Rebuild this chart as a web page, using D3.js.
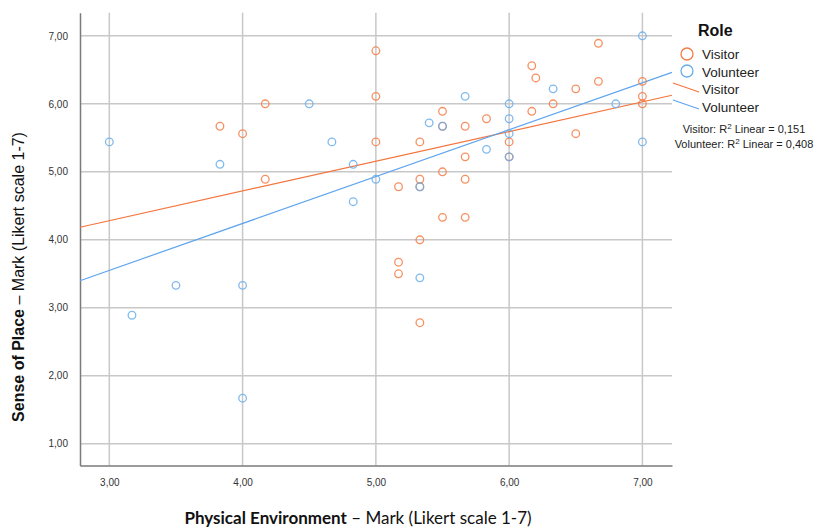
<!DOCTYPE html>
<html>
<head>
<meta charset="utf-8">
<script src="https://cdn.jsdelivr.net/npm/d3@7"></script>
<style>
  body { margin: 0; background: #fff; }
  text { font-family: "Liberation Sans", Arial, sans-serif; }
</style>
</head>
<body>
<div id="chart"></div>
<script>
// 1: DATA
const visitorX = [3.83, 4.00, 4.17, 4.17, 5.00, 5.00, 5.50, 5.50, 5.67, 5.00, 5.33, 5.67, 5.50, 5.67, 5.33, 5.17, 5.33, 5.50, 5.67, 5.33, 5.17, 5.17, 5.33,
                  6.67, 6.17, 6.20, 6.50, 6.67, 7.00, 7.00, 7.00, 6.33, 6.17, 5.83, 6.00, 6.00, 6.50];
const visitorY = [5.67, 5.56, 6.00, 4.89, 6.78, 6.11, 5.89, 5.67, 5.67, 5.44, 5.44, 5.22, 5.00, 4.89, 4.89, 4.78, 4.78, 4.33, 4.33, 4.00, 3.67, 3.50, 2.78,
                  6.89, 6.56, 6.38, 6.22, 6.33, 6.33, 6.11, 6.00, 6.00, 5.89, 5.78, 5.44, 5.22, 5.56];
const volunteerX = [3.00, 3.83, 4.50, 5.67, 5.40, 5.50, 4.67, 4.83, 5.00, 5.33, 4.83, 7.00, 6.33, 6.80, 6.00, 6.00, 6.00, 5.83, 6.00, 7.00, 3.50, 4.00, 3.17, 4.00, 5.33];
const volunteerY = [5.44, 5.11, 6.00, 6.11, 5.72, 5.67, 5.44, 5.11, 4.89, 4.78, 4.56, 7.00, 6.22, 6.00, 6.00, 5.78, 5.56, 5.33, 5.22, 5.44, 3.33, 3.33, 2.89, 1.67, 3.44];

// fit lines as drawn in the reference: [intercept, slope]
const visitorFit = [2.97, 0.437];
const volunteerFit = [1.48, 0.69];
const r2Roles = ["Visitor", "Volunteer"];
const r2Values = ["0,151", "0,408"];

const xTicks = [3, 4, 5, 6, 7];
const yTicks = [1, 2, 3, 4, 5, 6, 7];
const roles = ["Visitor", "Volunteer"];

// 2: SETUP
const W = 818, H = 528;
const plot = { left: 80, right: 672, top: 12.7, bottom: 465.5 };
const colors = { Visitor: "#f57c45", Volunteer: "#6aaeeb" };
const lineColors = { Visitor: "#f5743c", Volunteer: "#5ea5ee" };
const fmt = d => d3.format(".2f")(d).replace(".", ",");

const svg = d3.select("#chart").append("svg")
    .attr("width", W)
    .attr("height", H);

const xScale = d3.scaleLinear().domain([2.78, 7.222]).range([plot.left, plot.right]);
const yScale = d3.scaleLinear().domain([0.68, 7.34]).range([plot.bottom, plot.top]);

// 3: GRID
svg.append("g").selectAll("line.vgrid")
    .data(xTicks).enter().append("line")
    .attr("x1", d => xScale(d)).attr("x2", d => xScale(d))
    .attr("y1", plot.top).attr("y2", plot.bottom)
    .attr("stroke", "#c8c8c8").attr("stroke-width", 1.5);

svg.append("g").selectAll("line.hgrid")
    .data(yTicks).enter().append("line")
    .attr("x1", plot.left).attr("x2", plot.right)
    .attr("y1", d => yScale(d)).attr("y2", d => yScale(d))
    .attr("stroke", "#c8c8c8").attr("stroke-width", 1.5);

// 4: AXES
const xAxis = svg.append("g")
    .attr("transform", `translate(0,${plot.bottom})`)
    .call(d3.axisBottom(xScale).tickValues(xTicks).tickFormat(fmt).tickSize(0).tickPadding(13));
const yAxis = svg.append("g")
    .attr("transform", `translate(${plot.left},0)`)
    .call(d3.axisLeft(yScale).tickValues(yTicks).tickFormat(fmt).tickSize(0).tickPadding(12));

[xAxis, yAxis].forEach(a => {
    a.select(".domain").attr("stroke", "#7a7a7a").attr("stroke-width", 1.5);
    a.selectAll("text").attr("fill", "#333").style("font-size", "10px")
        .style("font-family", "'Liberation Sans', Arial, sans-serif");
});

// 5: FIT LINES
const fits = [
    { role: "Visitor", coef: visitorFit },
    { role: "Volunteer", coef: volunteerFit }
];
const dom = xScale.domain();
svg.append("g").selectAll("line.fit")
    .data(fits).enter().append("line")
    .attr("x1", xScale(dom[0])).attr("x2", xScale(dom[1]))
    .attr("y1", d => yScale(d.coef[0] + d.coef[1] * dom[0]))
    .attr("y2", d => yScale(d.coef[0] + d.coef[1] * dom[1]))
    .attr("stroke", d => lineColors[d.role])
    .attr("stroke-width", 1.2);

// 6: POINTS
const visitors = visitorX.map((x, i) => ({ x, y: visitorY[i], role: "Visitor" }));
const volunteers = volunteerX.map((x, i) => ({ x, y: volunteerY[i], role: "Volunteer" }));

svg.append("g").selectAll("circle")
    .data(visitors.concat(volunteers)).enter().append("circle")
    .attr("cx", d => xScale(d.x))
    .attr("cy", d => yScale(d.y))
    .attr("r", 3.8)
    .attr("fill", "none")
    .attr("stroke", d => colors[d.role])
    .attr("stroke-width", 1.3)
    .attr("stroke-opacity", 0.85);

// 7: LEGEND
const legend = svg.append("g");
legend.append("text")
    .attr("x", 698).attr("y", 36)
    .style("font-size", "16px").style("font-weight", "bold")
    .attr("fill", "#111")
    .text("Role");

legend.selectAll("circle.leg")
    .data(roles).enter().append("circle")
    .attr("cx", 687).attr("cy", (d, i) => 54 + i * 17)
    .attr("r", 6)
    .attr("fill", "none")
    .attr("stroke", d => colors[d])
    .attr("stroke-width", 1.3);

legend.selectAll("line.leg")
    .data(roles).enter().append("line")
    .attr("x1", 673).attr("x2", 699)
    .attr("y1", (d, i) => 83 + i * 17).attr("y2", (d, i) => 92 + i * 17)
    .attr("stroke", d => lineColors[d])
    .attr("stroke-width", 1.2);

legend.selectAll("text.leg")
    .data(roles.concat(roles)).enter().append("text")
    .attr("x", 702).attr("y", (d, i) => 59 + i * 17.5)
    .style("font-size", "13.5px")
    .attr("fill", "#222")
    .text(d => d);

const r2 = legend.selectAll("text.r2")
    .data(r2Roles).enter().append("text")
    .attr("x", 744).attr("y", (d, i) => 133 + i * 15)
    .attr("text-anchor", "middle")
    .style("font-size", "11px")
    .attr("fill", "#222");
r2.append("tspan").text(d => d + ": R");
r2.append("tspan").attr("dy", -4).style("font-size", "8px").text("2");
r2.append("tspan").attr("dy", 4).text((d, i) => " Linear = " + r2Values[i]);

// 8: AXIS TITLES
const xTitle = svg.append("text")
    .attr("x", 358).attr("y", 524)
    .attr("text-anchor", "middle")
    .style("font-family", "Lato, 'Noto Sans', sans-serif")
    .style("font-size", "17px")
    .attr("fill", "#111");
xTitle.append("tspan").style("font-weight", "bold").text("Physical Environment");
xTitle.append("tspan").text(" \u2013 Mark (Likert scale 1-7)");

const yTitle = svg.append("text")
    .attr("transform", "translate(24,277) rotate(-90)")
    .attr("text-anchor", "middle")
    .style("font-size", "16px")
    .attr("fill", "#111");
yTitle.append("tspan").style("font-weight", "bold").text("Sense of Place");
yTitle.append("tspan").text(" \u2013 Mark (Likert scale 1-7)");
</script>
</body>
</html>
